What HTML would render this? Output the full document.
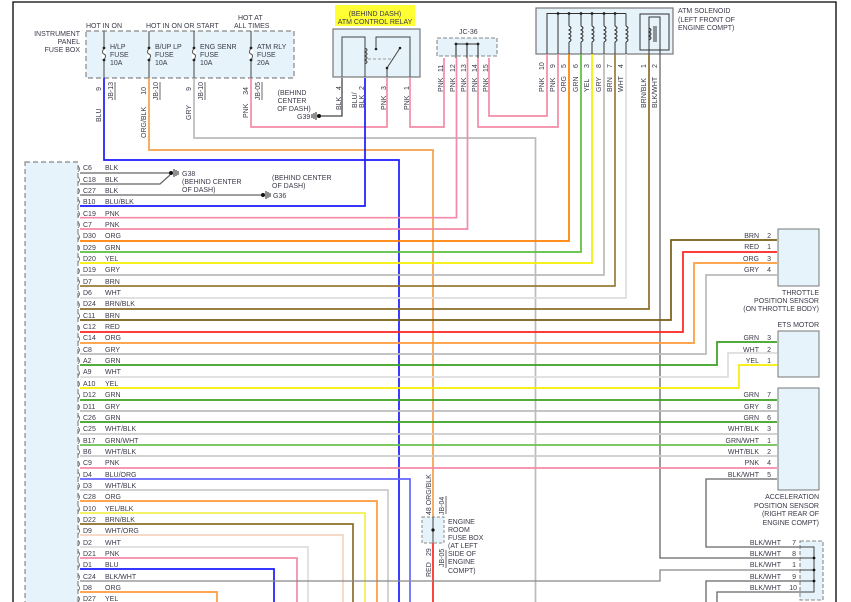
<!DOCTYPE html>
<html><head><meta charset="utf-8"><style>
html,body{margin:0;padding:0;background:#fff;}
svg{display:block;}
text{font-family:"Liberation Sans",sans-serif;font-size:7px;fill:#3a3a4a;}
</style></head><body>
<svg width="851" height="602" viewBox="0 0 851 602" xmlns="http://www.w3.org/2000/svg">
<rect x="0" y="0" width="851" height="602" fill="#fff"/>
<!-- frame -->
<path d="M13,602 V2 H836 V602" fill="none" stroke="#000" stroke-width="1.3"/>

<!-- IP fuse box -->
<rect x="86" y="31" width="208" height="47" fill="#e6f3fa" stroke="#888" stroke-dasharray="5,3" stroke-width="1.2"/>
<text x="80" y="36" text-anchor="end">INSTRUMENT</text>
<text x="80" y="44" text-anchor="end">PANEL</text>
<text x="80" y="52" text-anchor="end">FUSE BOX</text>
<text x="86" y="28">HOT IN ON</text>
<text x="146" y="28">HOT IN ON OR START</text>
<text x="238" y="20">HOT AT</text>
<text x="234" y="28">ALL TIMES</text>
<g stroke="#555" stroke-width="1.1" fill="none">
<path d="M104,31 V78 M149,31 V78 M194,31 V78 M251,31 V78"/>
</g>
<g fill="#fff" stroke="none">
<rect x="102" y="48" width="4" height="11"/><rect x="147" y="48" width="4" height="11"/><rect x="192" y="48" width="4" height="11"/><rect x="249" y="48" width="4" height="11"/>
</g>
<g stroke="#555" stroke-width="1" fill="none">
<path d="M104,48 q-3,5 0,6 q3,1 0,6 M149,48 q-3,5 0,6 q3,1 0,6 M194,48 q-3,5 0,6 q3,1 0,6 M251,48 q-3,5 0,6 q3,1 0,6"/>
</g>
<g fill="#222"><circle cx="104" cy="48" r="1.4"/><circle cx="104" cy="60" r="1.4"/><circle cx="149" cy="48" r="1.4"/><circle cx="149" cy="60" r="1.4"/><circle cx="194" cy="48" r="1.4"/><circle cx="194" cy="60" r="1.4"/><circle cx="251" cy="48" r="1.4"/><circle cx="251" cy="60" r="1.4"/></g>
<text x="110" y="49">H/LP</text><text x="110" y="57">FUSE</text><text x="110" y="65">10A</text>
<text x="155" y="49">B/UP LP</text><text x="155" y="57">FUSE</text><text x="155" y="65">10A</text>
<text x="200" y="49">ENG SENR</text><text x="200" y="57">FUSE</text><text x="200" y="65">10A</text>
<text x="257" y="49">ATM RLY</text><text x="257" y="57">FUSE</text><text x="257" y="65">20A</text>
<g font-size="6.5">
<text transform="translate(101,87) rotate(-90)" text-anchor="end">9</text>
<text transform="translate(146,87) rotate(-90)" text-anchor="end">10</text>
<text transform="translate(191,87) rotate(-90)" text-anchor="end">9</text>
<text transform="translate(248,87) rotate(-90)" text-anchor="end">34</text>
<text transform="translate(113,82) rotate(-90)" text-anchor="end">JB-13</text>
<text transform="translate(158,82) rotate(-90)" text-anchor="end">JB-10</text>
<text transform="translate(203,82) rotate(-90)" text-anchor="end">JB-10</text>
<text transform="translate(260,82) rotate(-90)" text-anchor="end">JB-05</text>
<text transform="translate(101,122) rotate(-90)">BLU</text>
<text transform="translate(146,138) rotate(-90)">ORG/BLK</text>
<text transform="translate(191,120) rotate(-90)">GRY</text>
<text transform="translate(248,118) rotate(-90)">PNK</text>
</g>
<g stroke="#444" stroke-width="0.8"><path d="M115,82 V100 M160,82 V100 M205,82 V100 M262,82 V100"/></g>

<!-- Relay -->
<rect x="335" y="5" width="80" height="21" fill="#ffff33"/>
<text x="375" y="16" text-anchor="middle">(BEHIND DASH)</text>
<text x="375" y="24" text-anchor="middle">ATM CONTROL RELAY</text>
<rect x="333" y="29" width="87" height="48" fill="#e6f3fa" stroke="#777" stroke-width="1.2"/>
<g stroke="#444" stroke-width="1" fill="none">
<path d="M342,77 V37 H365 V77"/>
<path d="M365,48 q4,2 0,4 q4,2 0,4 q4,2 0,4 q4,2 0,4"/>
<path d="M387,77 V68 L400,48"/>
<path d="M376,49 V37 H410 V77"/>
<path d="M368,59 H392" stroke-dasharray="3,2" stroke="#999"/>
</g>
<g fill="#222"><circle cx="376" cy="49" r="1.3"/><circle cx="400" cy="48" r="1.3"/><circle cx="387" cy="68" r="1.3"/></g>
<g font-size="6.5">
<text transform="translate(341,110) rotate(-90)">BLK</text><text transform="translate(341,90) rotate(-90)">4</text>
<text transform="translate(357,108) rotate(-90)">BLU/</text><text transform="translate(364,108) rotate(-90)">BLK</text><text transform="translate(364,90) rotate(-90)">2</text>
<text transform="translate(386,110) rotate(-90)">PNK</text><text transform="translate(386,90) rotate(-90)">3</text>
<text transform="translate(409,110) rotate(-90)">PNK</text><text transform="translate(409,90) rotate(-90)">1</text>
</g>
<text x="292" y="95" text-anchor="middle">(BEHIND</text>
<text x="292" y="103" text-anchor="middle">CENTER</text>
<text x="294" y="111" text-anchor="middle">OF DASH)</text>
<text x="297" y="119">G39</text>

<!-- JC-36 -->
<text x="459" y="34">JC-36</text>
<rect x="437" y="38" width="60" height="18" fill="#e6f3fa" stroke="#888" stroke-dasharray="4,2" stroke-width="1.1"/>
<path d="M456,44 H478 M456,44 V58 M467,44 V58 M478,44 V58" stroke="#333" stroke-width="1.1"/>
<g fill="#222"><circle cx="456" cy="44" r="1.4"/><circle cx="467" cy="44" r="1.4"/><circle cx="478" cy="44" r="1.4"/></g>
<g font-size="6.5">
<text transform="translate(443,72) rotate(-90)">11</text><text transform="translate(455,72) rotate(-90)">12</text><text transform="translate(466,72) rotate(-90)">13</text><text transform="translate(477,72) rotate(-90)">14</text><text transform="translate(488,72) rotate(-90)">15</text>
<text transform="translate(443,92) rotate(-90)">PNK</text><text transform="translate(455,92) rotate(-90)">PNK</text><text transform="translate(466,92) rotate(-90)">PNK</text><text transform="translate(477,92) rotate(-90)">PNK</text><text transform="translate(488,92) rotate(-90)">PNK</text>
</g>

<!-- ATM Solenoid -->
<rect x="536" y="8" width="137" height="46" fill="#e6f3fa" stroke="#777" stroke-width="1.2"/>
<path d="M547,54 V13.5 H626 M558,13.5 V54 M569,13.5 V26 M581,13.5 V26 M592,13.5 V26 M604,13.5 V26 M615,13.5 V26 M626,13.5 V26 M569,42 V54 M581,42 V54 M592,42 V54 M604,42 V54 M615,42 V54 M626,42 V54" stroke="#333" stroke-width="1" fill="none"/>
<g stroke="#333" stroke-width="1" fill="none">
<path d="M569,26 q4,2 0,4 q4,2 0,4 q4,2 0,4 q4,2 0,4 M581,26 q4,2 0,4 q4,2 0,4 q4,2 0,4 q4,2 0,4 M592,26 q4,2 0,4 q4,2 0,4 q4,2 0,4 q4,2 0,4 M604,26 q4,2 0,4 q4,2 0,4 q4,2 0,4 q4,2 0,4 M615,26 q4,2 0,4 q4,2 0,4 q4,2 0,4 q4,2 0,4 M626,26 q4,2 0,4 q4,2 0,4 q4,2 0,4 q4,2 0,4"/>
<rect x="640" y="14" width="29" height="36"/>
<path d="M649,54 V17 H660 V54 M649,28 q4,2 0,4 q4,2 0,4 q4,2 0,4 M654,26 V42 M656,26 V42"/>
</g>
<g fill="#222"><circle cx="558" cy="13.5" r="1.4"/><circle cx="569" cy="13.5" r="1.4"/><circle cx="581" cy="13.5" r="1.4"/><circle cx="592" cy="13.5" r="1.4"/><circle cx="604" cy="13.5" r="1.4"/><circle cx="615" cy="13.5" r="1.4"/></g>
<text x="678" y="13">ATM SOLENOID</text>
<text x="678" y="22">(LEFT FRONT OF</text>
<text x="678" y="30">ENGINE COMPT)</text>
<g font-size="6.5">
<text transform="translate(544,70) rotate(-90)">10</text><text transform="translate(555,68) rotate(-90)">9</text><text transform="translate(566,68) rotate(-90)">5</text><text transform="translate(578,68) rotate(-90)">6</text><text transform="translate(589,68) rotate(-90)">3</text><text transform="translate(601,68) rotate(-90)">8</text><text transform="translate(612,68) rotate(-90)">7</text><text transform="translate(623,68) rotate(-90)">4</text><text transform="translate(646,68) rotate(-90)">1</text><text transform="translate(657,68) rotate(-90)">2</text>
<text transform="translate(544,92) rotate(-90)">PNK</text><text transform="translate(555,92) rotate(-90)">PNK</text><text transform="translate(566,92) rotate(-90)">ORG</text><text transform="translate(578,92) rotate(-90)">GRN</text><text transform="translate(589,92) rotate(-90)">YEL</text><text transform="translate(601,92) rotate(-90)">GRY</text><text transform="translate(612,92) rotate(-90)">BRN</text><text transform="translate(623,92) rotate(-90)">WHT</text>
<text transform="translate(646,108) rotate(-90)">BRN/BLK</text><text transform="translate(657,108) rotate(-90)">BLK/WHT</text>
</g>

<!-- Left box -->
<rect x="25" y="162" width="53" height="445" fill="#e6f3fa" stroke="#888" stroke-dasharray="5,3" stroke-width="1.2"/>

<!-- wires -->
<g fill="none" stroke-width="1.7">
<path d="M104,78 V160 H399 V602" stroke="#1a1aff"/>
<path d="M149,78 V150 H433 V517" stroke="#f5a04a"/>
<path d="M433,543 V602" stroke="#ff2020"/>
<path d="M194,78 V138 H535.5 V602" stroke="#bbb"/>
<path d="M251,78 V127 H387 V78" stroke="#f48aa8"/>
<path d="M410,78 V127 H444 V58" stroke="#f48aa8"/>
<path d="M478,58 V127 H558 V54" stroke="#f48aa8"/>
<path d="M489,58 V116 H547 V54" stroke="#f48aa8"/>
<path d="M342,78 V116 H320" stroke="#444" stroke-width="1.3"/>
<path d="M660,54 V558 H800" stroke="#666" stroke-width="1.3"/>
<path d="M80,173 H170" stroke="#666" stroke-width="1.3"/>
<path d="M80,184 H160 L170,175" stroke="#666" stroke-width="1.3"/>
<path d="M80,195 H262" stroke="#666" stroke-width="1.3"/>
<path d="M80,206 H365 V78" stroke="#1a1aff"/>
<path d="M80,217.7 H456.5 V58" stroke="#f48aa8"/>
<path d="M80,229 H467.5 V58" stroke="#f48aa8"/>
<path d="M80,241 H569 V54" stroke="#ff8000"/>
<path d="M80,252 H581 V54" stroke="#5cbf3c"/>
<path d="M80,263 H592 V54" stroke="#f5ee00"/>
<path d="M80,275 H604 V54" stroke="#bbb"/>
<path d="M80,286 H615 V54" stroke="#9a7b3a"/>
<path d="M80,298 H626 V54" stroke="#ddd"/>
<path d="M80,309 H649 V54" stroke="#8a6e2a"/>
<path d="M80,320 H671 V240 H777" stroke="#7a5c10"/>
<path d="M80,332 H683 V252 H777" stroke="#ff2020"/>
<path d="M80,343 H694 V263 H777" stroke="#ff9a3a"/>
<path d="M80,354 H706 V275 H777" stroke="#bbb"/>
<path d="M80,365 H717 V342 H777" stroke="#3aa020"/>
<path d="M80,377 H728 V353 H777" stroke="#ddd"/>
<path d="M80,388 H739 V365 H777" stroke="#f5ee00"/>
<path d="M80,400 H777" stroke="#3aa020"/>
<path d="M80,411 H777" stroke="#bbb"/>
<path d="M80,422 H777" stroke="#3aa020"/>
<path d="M80,434 H777" stroke="#ccc"/>
<path d="M80,445 H777" stroke="#6cc050"/>
<path d="M80,456 H777" stroke="#ccc"/>
<path d="M80,468 H777" stroke="#f48aa8"/>
<path d="M777,479 H706 V547 H800" stroke="#666" stroke-width="1.3"/>
<path d="M80,479 H410 V602" stroke="#6666ff"/>
<path d="M80,490 H388 V602" stroke="#ccc"/>
<path d="M80,501 H377 V602" stroke="#ff9a3a"/>
<path d="M80,513 H365 V602" stroke="#f0f050"/>
<path d="M80,524 H353 V602" stroke="#8a6e2a"/>
<path d="M80,535 H343 V602" stroke="#f5d5c0"/>
<path d="M80,547 H308 V602" stroke="#ddd"/>
<path d="M80,558 H297 V602" stroke="#f48aa8"/>
<path d="M80,569 H274 V602" stroke="#1a1aff"/>
<path d="M80,581 H660 V570 H800" stroke="#888" stroke-width="1.3"/>
<path d="M706,602 V581 H800" stroke="#666" stroke-width="1.3"/>
<path d="M717,602 V592 H800" stroke="#666" stroke-width="1.3"/>
<path d="M80,592 H217 V602" stroke="#ff9a3a"/>
<path d="M80,603 H200" stroke="#f5ee00"/>
</g>

<!-- grounds -->
<g stroke="#222" stroke-width="1" fill="none">
<path d="M174,169 V177 M176,170 V176 M178,171 V175 M266,191 V199 M268,192 V198 M270,193 V197 M316,112 V120 M314,113 V119 M312,114 V118"/>
</g>
<g fill="#111"><circle cx="171" cy="173" r="2"/><circle cx="263" cy="195" r="2"/><circle cx="319" cy="116" r="2"/></g>
<text x="182" y="176">G38</text>
<text x="182" y="184">(BEHIND CENTER</text>
<text x="182" y="192">OF DASH)</text>
<text x="272" y="180">(BEHIND CENTER</text>
<text x="272" y="188">OF DASH)</text>
<text x="273" y="198">G36</text>

<!-- left row labels -->
<g>
<text x="83" y="170">C6</text><text x="105" y="170">BLK</text>
<text x="83" y="182">C18</text><text x="105" y="182">BLK</text>
<text x="83" y="193">C27</text><text x="105" y="193">BLK</text>
<text x="83" y="204">B10</text><text x="105" y="204">BLU/BLK</text>
<text x="83" y="216">C19</text><text x="105" y="216">PNK</text>
<text x="83" y="227">C7</text><text x="105" y="227">PNK</text>
<text x="83" y="238">D30</text><text x="105" y="238">ORG</text>
<text x="83" y="250">D29</text><text x="105" y="250">GRN</text>
<text x="83" y="261">D20</text><text x="105" y="261">YEL</text>
<text x="83" y="272">D19</text><text x="105" y="272">GRY</text>
<text x="83" y="284">D7</text><text x="105" y="284">BRN</text>
<text x="83" y="295">D6</text><text x="105" y="295">WHT</text>
<text x="83" y="306">D24</text><text x="105" y="306">BRN/BLK</text>
<text x="83" y="318">C11</text><text x="105" y="318">BRN</text>
<text x="83" y="329">C12</text><text x="105" y="329">RED</text>
<text x="83" y="340">C14</text><text x="105" y="340">ORG</text>
<text x="83" y="352">C8</text><text x="105" y="352">GRY</text>
<text x="83" y="363">A2</text><text x="105" y="363">GRN</text>
<text x="83" y="374">A9</text><text x="105" y="374">WHT</text>
<text x="83" y="386">A10</text><text x="105" y="386">YEL</text>
<text x="83" y="397">D12</text><text x="105" y="397">GRN</text>
<text x="83" y="409">D11</text><text x="105" y="409">GRY</text>
<text x="83" y="420">C26</text><text x="105" y="420">GRN</text>
<text x="83" y="431">C25</text><text x="105" y="431">WHT/BLK</text>
<text x="83" y="443">B17</text><text x="105" y="443">GRN/WHT</text>
<text x="83" y="454">B6</text><text x="105" y="454">WHT/BLK</text>
<text x="83" y="465">C9</text><text x="105" y="465">PNK</text>
<text x="83" y="477">D4</text><text x="105" y="477">BLU/ORG</text>
<text x="83" y="488">D3</text><text x="105" y="488">WHT/BLK</text>
<text x="83" y="499">C28</text><text x="105" y="499">ORG</text>
<text x="83" y="511">D10</text><text x="105" y="511">YEL/BLK</text>
<text x="83" y="522">D22</text><text x="105" y="522">BRN/BLK</text>
<text x="83" y="533">D9</text><text x="105" y="533">WHT/ORG</text>
<text x="83" y="545">D2</text><text x="105" y="545">WHT</text>
<text x="83" y="556">D21</text><text x="105" y="556">PNK</text>
<text x="83" y="567">D1</text><text x="105" y="567">BLU</text>
<text x="83" y="579">C24</text><text x="105" y="579">BLK/WHT</text>
<text x="83" y="590">D8</text><text x="105" y="590">ORG</text>
<text x="83" y="601">D27</text><text x="105" y="601">YEL</text>
</g>
<!-- left connector arcs -->
<g stroke="#666" stroke-width="0.8" fill="none">
<path d="M78,166 q3,3 0,6 M78,177 q3,3 0,6 M78,188 q3,3 0,6 M78,199 q3,3 0,6 M78,211 q3,3 0,6 M78,222 q3,3 0,6 M78,234 q3,3 0,6 M78,245 q3,3 0,6 M78,256 q3,3 0,6 M78,268 q3,3 0,6 M78,279 q3,3 0,6 M78,291 q3,3 0,6 M78,302 q3,3 0,6 M78,313 q3,3 0,6 M78,325 q3,3 0,6 M78,336 q3,3 0,6 M78,347 q3,3 0,6 M78,358 q3,3 0,6 M78,370 q3,3 0,6 M78,381 q3,3 0,6 M78,393 q3,3 0,6 M78,404 q3,3 0,6 M78,415 q3,3 0,6 M78,427 q3,3 0,6 M78,438 q3,3 0,6 M78,449 q3,3 0,6 M78,461 q3,3 0,6 M78,472 q3,3 0,6 M78,483 q3,3 0,6 M78,494 q3,3 0,6 M78,506 q3,3 0,6 M78,517 q3,3 0,6 M78,528 q3,3 0,6 M78,540 q3,3 0,6 M78,551 q3,3 0,6 M78,562 q3,3 0,6 M78,574 q3,3 0,6 M78,585 q3,3 0,6 M78,596 q3,3 0,6"/>
</g>

<!-- Right components -->
<rect x="778" y="229" width="41" height="57" fill="#e6f3fa" stroke="#777" stroke-width="1"/>
<rect x="778" y="331" width="41" height="46" fill="#e6f3fa" stroke="#777" stroke-width="1"/>
<rect x="778" y="388" width="41" height="102" fill="#e6f3fa" stroke="#777" stroke-width="1"/>
<text x="819" y="295" text-anchor="end">THROTTLE</text>
<text x="819" y="303" text-anchor="end">POSITION SENSOR</text>
<text x="819" y="311" text-anchor="end">(ON THROTTLE BODY)</text>
<text x="819" y="327" text-anchor="end">ETS MOTOR</text>
<text x="819" y="499" text-anchor="end">ACCELERATION</text>
<text x="819" y="508" text-anchor="end">POSITION SENSOR</text>
<text x="819" y="516" text-anchor="end">(RIGHT REAR OF</text>
<text x="819" y="525" text-anchor="end">ENGINE COMPT)</text>
<g text-anchor="end">
<text x="759" y="238">BRN</text><text x="771" y="238">2</text>
<text x="759" y="249">RED</text><text x="771" y="249">1</text>
<text x="759" y="261">ORG</text><text x="771" y="261">3</text>
<text x="759" y="272">GRY</text><text x="771" y="272">4</text>
<text x="759" y="340">GRN</text><text x="771" y="340">3</text>
<text x="759" y="352">WHT</text><text x="771" y="352">2</text>
<text x="759" y="363">YEL</text><text x="771" y="363">1</text>
<text x="759" y="397">GRN</text><text x="771" y="397">7</text>
<text x="759" y="409">GRY</text><text x="771" y="409">8</text>
<text x="759" y="420">GRN</text><text x="771" y="420">6</text>
<text x="759" y="431">WHT/BLK</text><text x="771" y="431">3</text>
<text x="759" y="443">GRN/WHT</text><text x="771" y="443">1</text>
<text x="759" y="454">WHT/BLK</text><text x="771" y="454">2</text>
<text x="759" y="465">PNK</text><text x="771" y="465">4</text>
<text x="759" y="477">BLK/WHT</text><text x="771" y="477">5</text>
<text x="781" y="545">BLK/WHT</text><text x="796" y="545">7</text>
<text x="781" y="556">BLK/WHT</text><text x="796" y="556">8</text>
<text x="781" y="567">BLK/WHT</text><text x="796" y="567">1</text>
<text x="781" y="579">BLK/WHT</text><text x="796" y="579">9</text>
<text x="781" y="590">BLK/WHT</text><text x="797" y="590">10</text>
</g>
<!-- joint box -->
<rect x="800" y="541" width="23" height="59" fill="#e6f3fa" stroke="#888" stroke-dasharray="4,2" stroke-width="1.1"/>
<path d="M800,547 H814 V592 H800 M800,558 H814 M800,570 H814 M800,581 H814" stroke="#444" stroke-width="1" fill="none"/>
<g fill="#111"><circle cx="814" cy="558" r="1.4"/><circle cx="814" cy="570" r="1.4"/><circle cx="814" cy="581" r="1.4"/></g>

<!-- engine room fuse box -->
<rect x="422" y="517" width="22" height="26" fill="#e6f3fa" stroke="#888" stroke-dasharray="3,2" stroke-width="1"/>
<path d="M433,517 V543" stroke="#444" stroke-width="1"/>
<circle cx="433" cy="530" r="1.6" fill="#111"/>
<g font-size="6.5">
<text transform="translate(431,515) rotate(-90)">48 ORG/BLK</text>
<text transform="translate(444,515) rotate(-90)">JB-04</text>
<text transform="translate(431,556) rotate(-90)">29</text>
<text transform="translate(431,577) rotate(-90)">RED</text>
<text transform="translate(444,567) rotate(-90)">JB-05</text>
</g>
<path d="M446,496 V514 M446,550 V568" stroke="#444" stroke-width="0.8"/>
<text x="448" y="524">ENGINE</text>
<text x="448" y="532">ROOM</text>
<text x="448" y="540">FUSE BOX</text>
<text x="448" y="548">(AT LEFT</text>
<text x="448" y="556">SIDE OF</text>
<text x="448" y="564">ENGINE</text>
<text x="448" y="573">COMPT)</text>
</svg>
</body></html>
